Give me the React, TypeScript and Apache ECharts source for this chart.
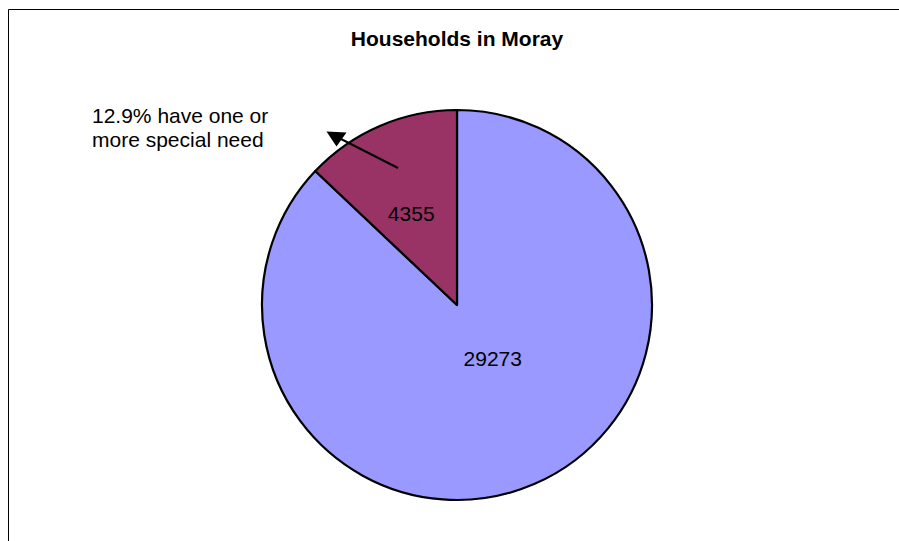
import React, { useEffect, useRef } from "react";
import * as echarts from "echarts";

const titleText = "Households in Moray";
const categories = ["No special need", "One or more special need"];
const values = [29273, 4355];
const colors = ["#9999FF", "#993366"];
const annotationLines = ["12.9% have one or", "more special need"];
const labelShifts = [
  { dx: -4, dy: -39 },
  { dx: -6, dy: 1 },
];

export default function App() {
  const ref = useRef<HTMLDivElement>(null);
  useEffect(() => {
    if (!ref.current) return;
    const chart = echarts.init(ref.current, undefined, { renderer: "svg" });
    const font = "Liberation Sans, Arial, sans-serif";
    chart.setOption({
      animation: false,
      backgroundColor: "#ffffff",
      title: {
        text: titleText,
        left: 452,
        top: 23,
        textAlign: "center",
        textStyle: { fontFamily: font, fontSize: 21, fontWeight: "bold", color: "#000" },
      },
      series: [
        {
          type: "pie",
          center: [457, 305],
          radius: 195,
          startAngle: 90,
          clockwise: true,
          silent: true,
          itemStyle: { borderColor: "#000", borderWidth: 2.2 },
          label: {
            show: true,
            position: "inside",
            formatter: "{c}",
            fontFamily: font,
            fontSize: 21,
            color: "#000",
          },
          labelLine: { show: false },
          labelLayout: (p: any) => labelShifts[p.dataIndex],
          data: categories.map((c, i) => ({
            name: c,
            value: values[i],
            itemStyle: { color: colors[i] },
          })),
        },
      ],
      graphic: [
        {
          type: "rect",
          shape: { x: 8.5, y: 9.5, width: 1000, height: 1000 },
          style: { fill: "none", stroke: "#000", lineWidth: 1 },
          silent: true,
        },
        {
          type: "text",
          x: 92,
          y: 115,
          style: {
            text: annotationLines[0],
            font: `21px ${font}`,
            fill: "#000",
            textAlign: "left",
            textVerticalAlign: "middle",
          },
        },
        {
          type: "text",
          x: 92,
          y: 139.5,
          style: {
            text: annotationLines[1],
            font: `21px ${font}`,
            fill: "#000",
            textAlign: "left",
            textVerticalAlign: "middle",
          },
        },
        {
          type: "line",
          shape: { x1: 398, y1: 168, x2: 340, y2: 138.5 },
          style: { stroke: "#000", lineWidth: 2 },
          z: 100,
        },
        {
          type: "polygon",
          shape: { points: [[326.5, 131.5], [346.5, 132.5], [336.5, 146.5]] },
          style: { fill: "#000", stroke: "none" },
          z: 100,
        },
      ],
    });
    return () => chart.dispose();
  }, []);
  return (
    <div
      ref={ref}
      style={{ position: "fixed", left: 0, top: 0, width: 899, height: 541 }}
    />
  );
}
